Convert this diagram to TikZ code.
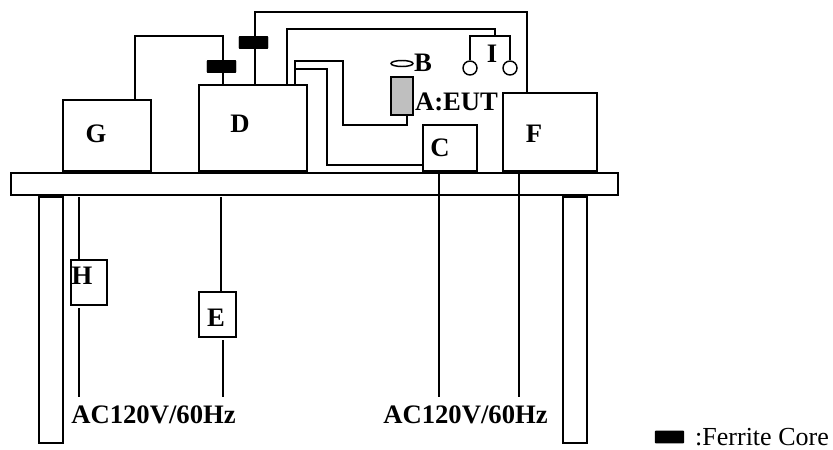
\documentclass[tikz,border=0pt]{standalone}
\usepackage{fontspec}
\setmainfont{Liberation Serif}
\usetikzlibrary{shapes.geometric}

\begin{document}
\begin{tikzpicture}[x=0.75pt,y=-0.75pt,line width=1.1pt,
		box/.style={rectangle,draw,inner sep=0pt},
		core/.style={rectangle,draw,fill=black,rounded corners=0.5pt,inner sep=0pt,minimum width=21pt,minimum height=8.5pt},
		contact/.style={circle,draw,fill=white,inner sep=0pt,minimum size=10.5pt},
		tag/.style={anchor=base,inner sep=0pt,font=\fontsize{20}{24}\selectfont\bfseries}]
		\useasboundingbox (0,0) rectangle (833,450);
		% table
		\node[box,minimum width=455.25pt,minimum height=16.5pt] (table) at (314.5,184) {};
		\node[box,minimum width=18pt,minimum height=184.5pt] (legl) at (51,320) {};
		\node[box,minimum width=18pt,minimum height=184.5pt] (legr) at (575,320) {};
		% boxes on the table
		\node[box,minimum width=66pt,minimum height=53.25pt] (G) at (107,135.5) {};
		\node[box,minimum width=81pt,minimum height=64.5pt] (D) at (253,128) {};
		\node[box,minimum width=40.5pt,minimum height=34.5pt] (C) at (450,148) {};
		\node[box,minimum width=70.5pt,minimum height=58.5pt] (F) at (550,132) {};
		\node[box,fill=black!25,minimum width=16.5pt,minimum height=28.5pt] (A) at (402,96) {};
		\node[draw,ellipse,inner sep=0pt,minimum width=16.5pt,minimum height=4.5pt] (B) at (402,63.5) {};
		% boxes under the table
		\node[box,minimum width=27pt,minimum height=33.75pt] (H) at (89,282.5) {};
		\node[box,minimum width=27.75pt,minimum height=33.75pt] (E) at (217.5,314.5) {};
		% ferrite cores
		\node[core] (corea) at (221.5,66.5) {};
		\node[core] (coreb) at (253.5,42.5) {};
		\node[core] (corec) at (669.5,437) {};
		% I
		\node[contact] (Ia) at (470,68) {};
		\node[contact] (Ib) at (510,68) {};
		% wire ends
		\coordinate (Gw) at (135,100);
		\coordinate (Dw) at (287,85);
		\coordinate (Dx) at (295,85);
		\coordinate (Dy) at (295,69);
		\coordinate (Fw) at (527,93);
		\coordinate (Aw) at (407,115);
		\coordinate (Iw) at (495,36);
		\coordinate (Hup) at (79,197);
		\coordinate (Hlo) at (79,308);
		\coordinate (Hac) at (79,397);
		\coordinate (Eup) at (221,197);
		\coordinate (Elo) at (223,340);
		\coordinate (Eac) at (223,397);
		\coordinate (Cac) at (439,397);
		\coordinate (Fac) at (519,397);
		% wires
		\draw (Gw) -- (135,36) -- (223,36) -- (D.north -| 223,0);
		\draw (D.north -| 255,0) -- (255,12) -- (527,12) -- (Fw);
		\draw (Dw) -- (287,29) -- (495,29) -- (Iw);
		\draw (Ia.north) -- (470,36) -- (510,36) -- (Ib.north);
		\draw (Dx) -- (295,61) -- (343,61) -- (343,125) -- (407,125) -- (Aw);
		\draw (Dy) -- (327,69) -- (327,165) -- (C.west |- 0,165);
		\draw (Hup) -- (H.north -| Hup);
		\draw (Hlo) -- (Hac);
		\draw (Eup) -- (E.north -| Eup);
		\draw (Elo) -- (Eac);
		\draw (C.south -| Cac) -- (Cac);
		\draw (F.south -| Fac) -- (Fac);
		\node[core] at (corea) {};
		\node[core] at (coreb) {};
		% labels
		\node[tag] (Gtag) at (96,142) {G};
		\node[tag] (Dtag) at (240,132) {D};
		\node[tag] (Ctag) at (440,156) {C};
		\node[tag] (Ftag) at (534,142) {F};
		\node[tag] (Htag) at (82,284) {H};
		\node[tag] (Etag) at (216,326) {E};
		\node[tag] (Itag) at (492,62) {I};
		\node[tag] (Btag) at (423,71) {B};
		\node[tag] (Atag) at (456.5,110) {A:EUT};
		\node[tag] (acl) at (153.5,423) {AC120V/60Hz};
		\node[tag] (acr) at (465.5,423) {AC120V/60Hz};
		\node[tag,font=\fontsize{19.5}{24}\selectfont] (legend) at (762,445) {:Ferrite Core};
\end{tikzpicture}
\end{document}
